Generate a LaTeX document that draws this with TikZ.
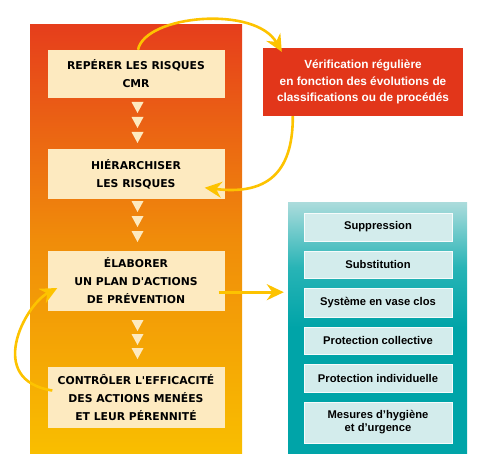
\documentclass[tikz,border=0pt]{standalone}
\usepackage{fontspec}
\setmainfont{Liberation Sans}
\newfontfamily\capsfont{DejaVu Sans}
\usepackage{xcolor}
\usetikzlibrary{positioning,arrows.meta}
\definecolor{cream}{HTML}{FDEAC0}
\definecolor{redv}{HTML}{E2361A}
\definecolor{gold}{HTML}{FDC300}
\definecolor{tealbox}{HTML}{D3ECEC}
\definecolor{otop}{HTML}{E63E1C}
\definecolor{omid}{HTML}{F08C0A}
\definecolor{obot}{HTML}{F9BE00}
\definecolor{ttop}{HTML}{ACDCDC}
\definecolor{tmid}{HTML}{28B4B6}
\definecolor{tbot}{HTML}{00A4A8}
\pgfdeclareverticalshading{orangeramp}{100bp}{color(0bp)=(obot); color(25bp)=(obot); color(50bp)=(omid); color(75bp)=(otop); color(100bp)=(otop)}
\pgfdeclareverticalshading{tealramp}{100bp}{color(0bp)=(tbot); color(25bp)=(tbot); color(50bp)=(tbot); color(62bp)=(tmid); color(75bp)=(ttop); color(100bp)=(ttop)}

\begin{document}
\begin{tikzpicture}[x=1pt,y=-1pt,
    stepbox/.style={fill=cream,minimum width=177pt,align=center,
        font=\capsfont\bfseries\fontsize{10.8}{18}\selectfont},
    mesure/.style={fill=tealbox,draw=white!80!tealbox,line width=0.8pt,
        minimum width=148pt,align=center,
        font=\bfseries\fontsize{11.2}{13}\selectfont},
    loop/.style={gold,line width=2.6pt,-{Stealth[length=17pt,width=16pt]}}]
    \useasboundingbox (0,0) rectangle (482,468);
    \node[shading=orangeramp,minimum width=212pt,minimum height=428pt] (O) at (136,239) {};
    \node[stepbox,minimum height=48pt] (A) at (136,74) {REPÉRER LES RISQUES\\CMR};
    \node[stepbox,minimum height=49pt] (B) at (136,174) {HIÉRARCHISER\\LES RISQUES};
    \node[stepbox,minimum height=60pt] (C) at (136,281) {ÉLABORER\\UN PLAN D\textquotesingle ACTIONS\\DE PRÉVENTION};
    \node[stepbox,minimum height=61pt] (D) at (136,397.5) {CONTRÔLER L\textquotesingle EFFICACITÉ\\DES ACTIONS MENÉES\\ET LEUR PÉRENNITÉ};
    \foreach \y in {102,117,132,201,216,231,320,334,348}
        \fill[cream] (131.5,\y) -- (143.5,\y) -- (137.5,\y+11) -- cycle;
    \node[fill=redv,text=white,minimum width=200pt,minimum height=68pt,align=center,
        font=\bfseries\fontsize{11.8}{16.5}\selectfont] (V) at (363,82)
        {Vérification régulière\\en fonction des évolutions de\\classifications ou de procédés};
    \node[shading=tealramp,minimum width=179pt,minimum height=251pt] (T) at (377.5,327.5) {};
    \node[mesure,minimum height=28pt] (S1) at (378,227) {Suppression};
    \node[mesure,minimum height=27pt] (S2) at (378,264.5) {Substitution};
    \node[mesure,minimum height=29pt] (S3) at (378,302.5) {Système en vase clos};
    \node[mesure,minimum height=27pt] (S4) at (378,340.5) {Protection collective};
    \node[mesure,minimum height=28pt] (S5) at (378,378) {Protection individuelle};
    \node[mesure,minimum height=41pt] (S6) at (378,422.5) {Mesures d’hygiène\\et d’urgence};
    \coordinate (A1) at ([xshift=2pt]A.north);
    \coordinate (V1) at ([shift={(19pt,-4pt)}]V.north west);
    \coordinate (V2) at ([xshift=30pt]V.south west);
    \coordinate (B1) at ([shift={(-20pt,11pt)}]B.south east);
    \coordinate (C1) at ([shift={(-6pt,19pt)}]C.south east);
    \coordinate (D1) at ([shift={(5pt,7pt)}]D.west);
    \coordinate (C2) at ([shift={(10pt,-7pt)}]C.west);
    \draw[loop] (A1) .. controls (145,15) and (255,5) .. (V1);
    \draw[loop] (V2) .. controls (293,175) and (265,195) .. (B1);
    \draw[loop,shorten >=4pt] (C1) -- (C1 -| T.west);
    \draw[loop] (D1) .. controls (-15,380) and (25,305) .. (C2);
\end{tikzpicture}
\end{document}
